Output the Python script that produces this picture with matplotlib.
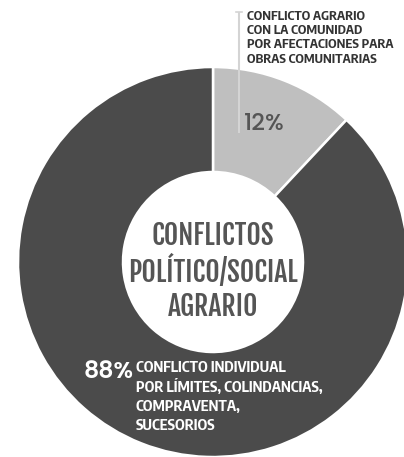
import matplotlib.pyplot as plt

# share of agrarian conflicts by type
labels = ['CONFLICTO AGRARIO\nCON LA COMUNIDAD\nPOR AFECTACIONES PARA\nOBRAS COMUNITARIAS',
          'CONFLICTO INDIVIDUAL\nPOR LÍMITES, COLINDANCIAS,\nCOMPRAVENTA,\nSUCESORIOS']
values = [12, 88]
colors = ['#bfbfbf', '#4b4b4b']
title = 'CONFLICTOS\nPOLÍTICO/SOCIAL\nAGRARIO'

W, H = 404, 457
fig = plt.figure(figsize=(W / 100, H / 100), dpi=100)
ax = fig.add_axes([0, 0, 1, 1])


def Y(y):
    # pixel rows counted from the top
    return H - y


cx, cy, r_out, r_in = 213, Y(262), 195, 90
ax.pie(values, colors=colors, startangle=90, counterclock=False,
       center=(cx, cy), radius=r_out, frame=True,
       wedgeprops=dict(width=r_out - r_in, edgecolor='white', linewidth=1.8))
ax.set_xlim(0, W)
ax.set_ylim(0, H)
ax.set_aspect('equal')
ax.axis('off')

# centre title
ax.text(cx, Y(271), title, ha='center', va='center', family='Fjalla One',
        fontsize=20, color='#555555', linespacing=1.14)

# leader line and label for the small slice
ax.plot([239, 239], [Y(12), Y(133)], color='#d4d4d4', lw=1.5, solid_capstyle='butt')
ax.plot([236, 242], [Y(12), Y(12)], color='#d4d4d4', lw=1.2)
ax.text(247, Y(10), labels[0], ha='left', va='top', family='Encode Sans Condensed',
        fontweight='bold', fontsize=9.3, color='#333333', linespacing=1.12)
ax.text(244, Y(124), f'{values[0]}%', ha='left', va='center', family='Poppins',
        fontweight='medium', fontsize=17, color='#555555')

# label for the large slice
ax.text(84, Y(373), f'{values[1]}%', ha='left', va='center', family='Poppins',
        fontweight='semibold', fontsize=17, color='white')
ax.text(136, Y(360), labels[1], ha='left', va='top', family='Encode Sans Condensed',
        fontweight='bold', fontsize=10.6, color='white', linespacing=1.32)

fig.savefig('out.png', dpi=100, facecolor='white')
